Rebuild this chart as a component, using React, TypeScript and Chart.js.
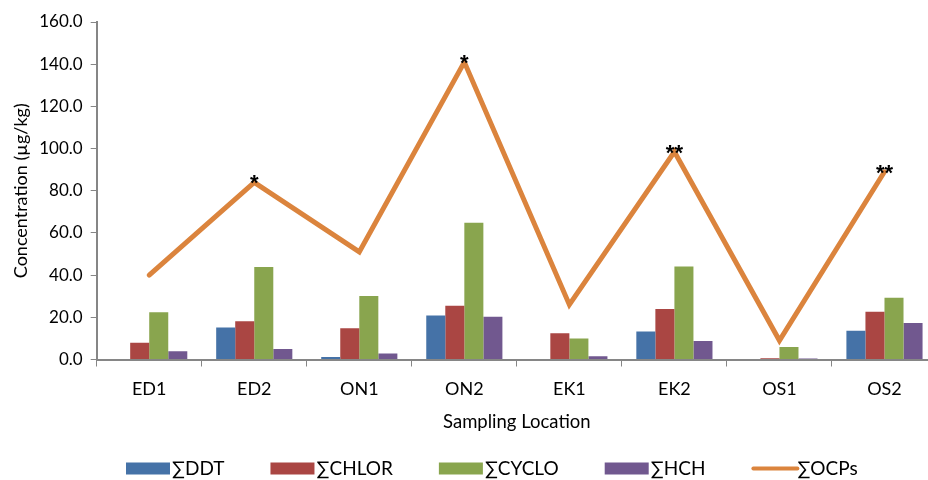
import { useEffect, useRef } from "react";
import { Chart, registerables } from "chart.js";

Chart.register(...registerables);

const categories = ["ED1", "ED2", "ON1", "ON2", "EK1", "EK2", "OS1", "OS2"];
const ddtValues = [0, 15.2, 1.2, 20.9, 0, 13.3, 0, 13.6];
const chlorValues = [8.0, 18.1, 14.8, 25.5, 12.5, 23.9, 0.6, 22.6];
const cycloValues = [22.4, 43.9, 30.1, 64.8, 10.0, 44.1, 5.9, 29.3];
const hchValues = [3.9, 5.0, 2.9, 20.3, 1.6, 8.8, 0.5, 17.3];
const ocpValues = [40.0, 84.0, 51.0, 141.0, 26.0, 98.5, 9.0, 89.0];
const significance = ["", "*", "", "*", "", "**", "", "**"];
const seriesNames = ["∑DDT", "∑CHLOR", "∑CYCLO", "∑HCH", "∑OCPs"];

const COLORS = ["#4572A7", "#AA4643", "#89A54E", "#71588F", "#DB843D"];
const FONT = "Lato, 'Open Sans', sans-serif";
const AXIS_GRAY = "#868686";

const markerPlugin = {
  id: "markers",
  afterDatasetsDraw(chart: any) {
    const meta = chart.getDatasetMeta(4);
    const ctx = chart.ctx;
    ctx.save();
    ctx.font = `bold 22px 'Liberation Sans', Arial, sans-serif`;
    ctx.fillStyle = "#000";
    ctx.textAlign = "center";
    ctx.textBaseline = "alphabetic";
    meta.data.forEach((pt: any, i: number) => {
      if (significance[i]) ctx.fillText(significance[i], pt.x, pt.y + 8);
    });
    ctx.restore();
  },
};

const legendPlugin = {
  id: "customLegend",
  afterDraw(chart: any) {
    const ctx = chart.ctx;
    ctx.save();
    ctx.font = `19px ${FONT}`;
    ctx.textBaseline = "middle";
    ctx.textAlign = "left";
    const y = 468.5;
    let x = 126;
    chart.data.datasets.forEach((ds: any, i: number) => {
      const color = COLORS[i];
      if (i === 4) {
        ctx.strokeStyle = color;
        ctx.lineWidth = 4;
        ctx.lineCap = "round";
        ctx.beginPath();
        ctx.moveTo(x + 2, y);
        ctx.lineTo(x + 46, y);
        ctx.stroke();
      } else {
        ctx.fillStyle = color;
        ctx.fillRect(x, y - 6, 44, 12);
      }
      ctx.fillStyle = "#000";
      ctx.fillText(ds.label, x + 46, y);
      x += 46 + ctx.measureText(ds.label).width + 46;
    });
    ctx.restore();
  },
};

export default function App() {
  const ref = useRef<HTMLCanvasElement | null>(null);

  useEffect(() => {
    if (!ref.current) return;
    const barSet = (idx: number, data: number[]) => ({
      type: "bar" as const,
      label: seriesNames[idx],
      data,
      backgroundColor: COLORS[idx],
      borderWidth: 0,
      order: 2,
      barPercentage: 1,
      categoryPercentage: 0.725,
    });
    const chart = new Chart(ref.current, {
      type: "bar",
      data: {
        labels: categories,
        datasets: [
          barSet(0, ddtValues),
          barSet(1, chlorValues),
          barSet(2, cycloValues),
          barSet(3, hchValues),
          {
            type: "line" as const,
            label: seriesNames[4],
            data: ocpValues,
            borderColor: COLORS[4],
            backgroundColor: COLORS[4],
            borderWidth: 5,
            pointRadius: 0,
            tension: 0,
            borderCapStyle: "round",
            borderJoinStyle: "miter",
            order: 1,
          } as any,
        ],
      },
      options: {
        responsive: false,
        animation: false,
        devicePixelRatio: 1,
        layout: { padding: { top: 22, right: 8, bottom: 40.5, left: 0 } },
        plugins: {
          legend: { display: false },
          tooltip: { enabled: false },
        },
        scales: {
          x: {
            offset: true,
            afterFit(scale: any) {
              scale.height = 80;
            },
            grid: {
              display: true,
              drawOnChartArea: false,
              drawTicks: true,
              tickLength: 7,
              color: AXIS_GRAY,
              offset: true,
            },
            border: { color: AXIS_GRAY, width: 2 },
            ticks: { color: "#000", font: { family: FONT, size: 18 }, padding: 12 },
            title: {
              display: true,
              text: "Sampling Location",
              color: "#000",
              font: { family: FONT, size: 18.5 },
              padding: { top: 6, bottom: 6.5 },
            },
          },
          y: {
            min: 0,
            max: 160,
            afterFit(scale: any) {
              scale.width = 96.7;
            },
            grid: {
              display: true,
              drawOnChartArea: false,
              drawTicks: true,
              tickLength: 6,
              color: AXIS_GRAY,
            },
            border: { color: AXIS_GRAY, width: 2 },
            ticks: {
              stepSize: 20,
              color: "#000",
              font: { family: FONT, size: 17 },
              padding: 8,
              callback: (v: any) => Number(v).toFixed(1),
            },
            title: {
              display: true,
              text: "Concentration (µg/kg)",
              color: "#000",
              font: { family: FONT, size: 18 },
              padding: { top: 10, bottom: 0 },
            },
          },
        },
      },
      plugins: [markerPlugin, legendPlugin],
    });
    return () => chart.destroy();
  }, []);

  return (
    <div
      style={{
        position: "fixed",
        left: 0,
        top: 0,
        width: 928,
        height: 480,
        overflow: "hidden",
        background: "#fff",
      }}
    >
      <canvas ref={ref} width={945} height={480} style={{ display: "block", width: 945, height: 480 }} />
    </div>
  );
}
